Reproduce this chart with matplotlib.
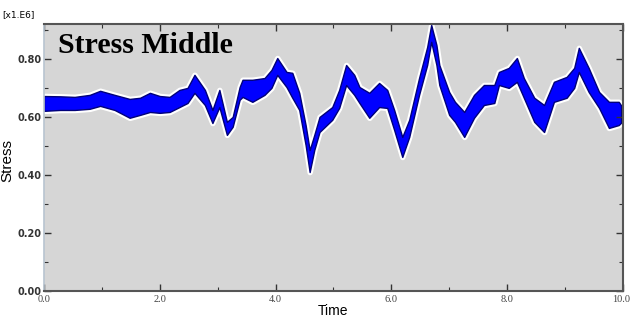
import numpy as np
import matplotlib.pyplot as plt
from matplotlib.ticker import MultipleLocator, FormatStrFormatter
from matplotlib.transforms import ScaledTranslation

# time (s) and upper / lower envelope of the oscillating stress band (x1.E6)
time = [0.0, 0.28, 0.53, 0.79, 0.97, 1.22, 1.48, 1.66, 1.83, 2.0, 2.17, 2.34,
        2.48, 2.60, 2.78, 2.91, 3.03, 3.16, 3.26, 3.38, 3.43, 3.60, 3.81, 3.93,
        4.03, 4.19, 4.29, 4.41, 4.52, 4.59, 4.67, 4.76, 4.98, 5.10, 5.22, 5.36,
        5.45, 5.62, 5.79, 5.93, 6.05, 6.19, 6.31, 6.48, 6.62, 6.69, 6.78, 6.83,
        7.0, 7.10, 7.26, 7.43, 7.60, 7.78, 7.86, 8.03, 8.17, 8.29, 8.47, 8.64,
        8.81, 9.03, 9.16, 9.24, 9.41, 9.59, 9.76, 9.93, 9.97]
upper = [0.672, 0.671, 0.669, 0.676, 0.690, 0.676, 0.662, 0.666, 0.683, 0.672, 0.669, 0.693,
         0.700, 0.745, 0.693, 0.624, 0.693, 0.583, 0.600, 0.703, 0.728, 0.728, 0.734, 0.762,
         0.803, 0.755, 0.752, 0.683, 0.572, 0.486, 0.538, 0.600, 0.634, 0.693, 0.779, 0.745,
         0.703, 0.683, 0.717, 0.693, 0.624, 0.531, 0.590, 0.734, 0.841, 0.917, 0.848, 0.779,
         0.686, 0.652, 0.617, 0.676, 0.710, 0.710, 0.755, 0.769, 0.803, 0.734, 0.666, 0.641,
         0.721, 0.738, 0.769, 0.838, 0.769, 0.686, 0.652, 0.652, 0.640]
lower = [0.621, 0.624, 0.624, 0.628, 0.638, 0.624, 0.597, 0.607, 0.617, 0.614, 0.617, 0.634,
         0.648, 0.683, 0.641, 0.579, 0.634, 0.538, 0.566, 0.659, 0.669, 0.652, 0.676, 0.700,
         0.745, 0.703, 0.666, 0.624, 0.503, 0.410, 0.486, 0.548, 0.590, 0.631, 0.710, 0.676,
         0.648, 0.597, 0.634, 0.631, 0.555, 0.462, 0.531, 0.676, 0.779, 0.859, 0.779, 0.710,
         0.607, 0.583, 0.531, 0.597, 0.641, 0.648, 0.710, 0.700, 0.721, 0.666, 0.583, 0.548,
         0.652, 0.666, 0.700, 0.755, 0.686, 0.631, 0.562, 0.572, 0.580]

xticks = [0.0, 2.0, 4.0, 6.0, 8.0, 10.0]
xtick_labels = ["0.0", "2.0", "4.0", "6.0", "8.0", "10.0"]

fig = plt.figure(figsize=(6.31, 3.21), dpi=100)
ax = fig.add_axes([0.0697, 0.0935, 0.9173, 0.8315])
ax.set_facecolor("#d6d6d6")

# white halo, then the blue band with a dark edge
ax.fill_between(time, upper, lower, facecolor="white", edgecolor="white", linewidth=4)
ax.fill_between(time, upper, lower, facecolor="#0000ff", edgecolor="#00007a", linewidth=1.0)

ax.set_xlim(0, 10)
ax.set_ylim(0, 0.92)
ax.xaxis.set_minor_locator(MultipleLocator(1.0))
ax.yaxis.set_major_locator(MultipleLocator(0.2))
ax.yaxis.set_minor_locator(MultipleLocator(0.1))
ax.yaxis.set_major_formatter(FormatStrFormatter("%.2f"))
ax.tick_params(which="both", direction="in", top=True, right=True, color="#333333")
ax.tick_params(which="major", length=5, width=1, pad=2)
ax.tick_params(which="minor", length=3, width=0.8)
ax.tick_params(axis="y", labelsize=7, labelcolor="#333333")
ax.tick_params(axis="x", pad=3)
for lab in ax.get_yticklabels():
    lab.set_fontweight("bold")
ax.set_xticks(xticks, labels=xtick_labels, family="Liberation Serif",
              fontsize=7.5, color="#444444")
# nudge the last label so it stays inside the figure
last = ax.get_xticklabels()[-1]
last.set_transform(last.get_transform() + ScaledTranslation(-2 / 100, 0, fig.dpi_scale_trans))

for side in ["top", "right", "bottom"]:
    ax.spines[side].set_color("#555555")
    ax.spines[side].set_linewidth(1.5)
ax.spines["left"].set_color("#b8c4d0")
ax.spines["left"].set_linewidth(1.2)

ax.set_xlabel("Time", fontsize=10, family="Liberation Sans", labelpad=0)
ax.set_ylabel("Stress", fontsize=11, family="Liberation Sans")
ax.yaxis.set_label_coords(-0.052, 0.49)
ax.text(0.025, 0.97, "Stress Middle", transform=ax.transAxes, ha="left", va="top",
        fontsize=21.5, fontweight="bold", family="Liberation Serif")
fig.text(0.003, 0.955, "[x1.E6]", fontsize=6.5, ha="left", va="center")

plt.savefig("out.png", dpi=100)
